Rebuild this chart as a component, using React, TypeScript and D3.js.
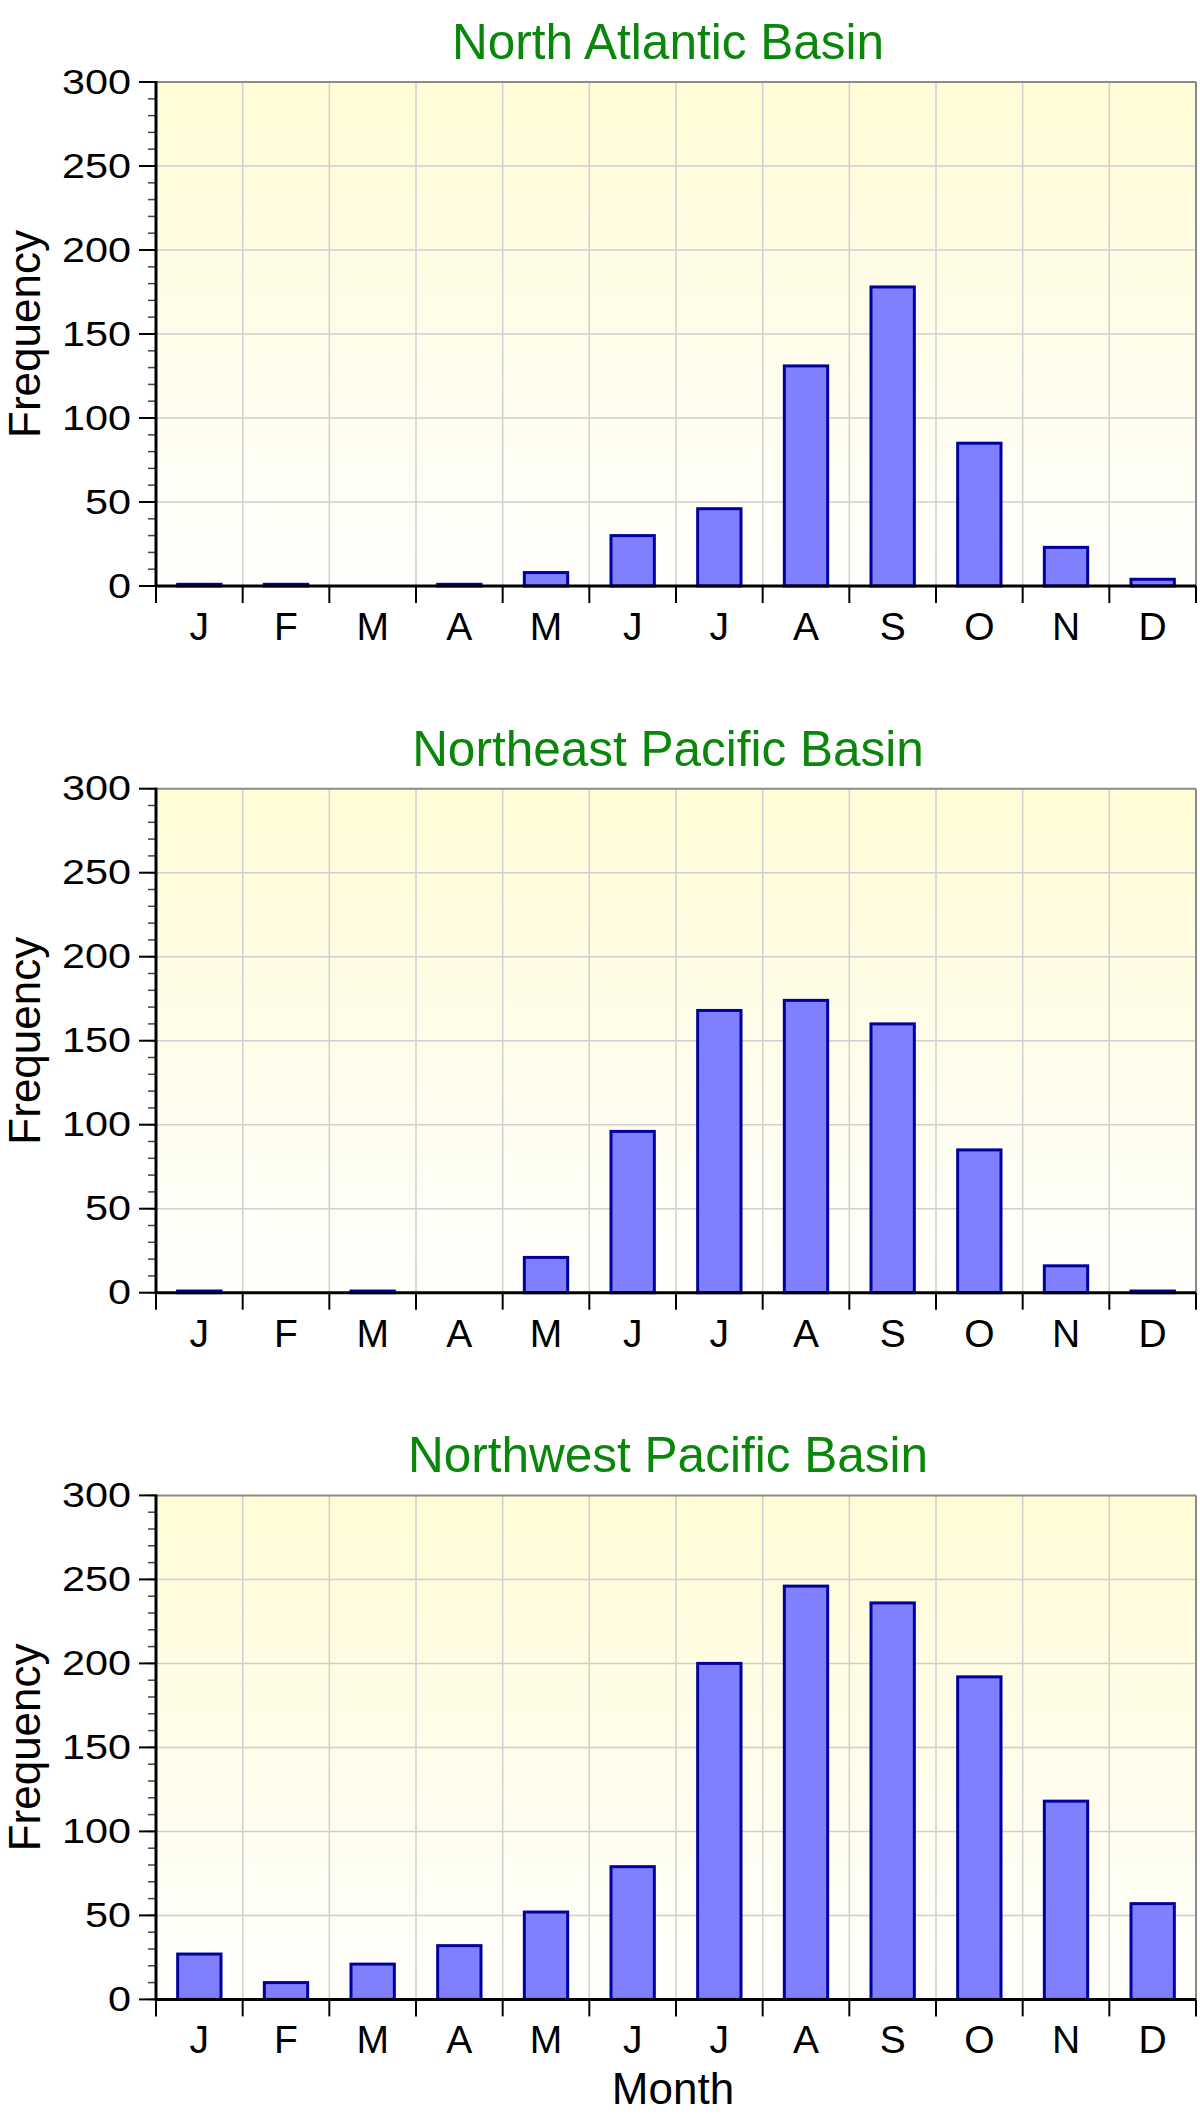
import * as d3 from 'd3';

const MONTHS = ['J', 'F', 'M', 'A', 'M', 'J', 'J', 'A', 'S', 'O', 'N', 'D'];
const BASINS = ['North Atlantic Basin', 'Northeast Pacific Basin', 'Northwest Pacific Basin'];
const NORTH_ATLANTIC = [1, 1, 0, 1, 8, 30, 46, 131, 178, 85, 23, 4];
const NORTHEAST_PACIFIC = [1, 0, 1, 0, 21, 96, 168, 174, 160, 85, 16, 1];
const NORTHWEST_PACIFIC = [27, 10, 21, 32, 52, 79, 200, 246, 236, 192, 118, 57];
const Y_TICKS = [0, 50, 100, 150, 200, 250, 300];

const SERIES = [NORTH_ATLANTIC, NORTHEAST_PACIFIC, NORTHWEST_PACIFIC];

const WIDTH = 1200;
const HEIGHT = 2118;
const MARGIN = { left: 156, right: 4, top: 82 };
const PLOT_H = 504;
const STEP = 706.7;
const FONT = '"Liberation Sans", Arial, Helvetica, sans-serif';

const Panel = ({ index, title, values }: { index: number; title: string; values: number[] }) => {
  const top = MARGIN.top + index * STEP;
  const bottom = top + PLOT_H;
  const left = MARGIN.left;
  const right = WIDTH - MARGIN.right;

  const xScale = d3
    .scaleBand<number>()
    .domain(d3.range(MONTHS.length))
    .range([left, right]);
  const yScale = d3.scaleLinear().domain([0, 300]).range([bottom, top]);
  const band = xScale.bandwidth();
  const barW = band * 0.5;
  const minor = d3.range(0, 301, 10);
  const bounds = d3.range(MONTHS.length + 1).map((i) => left + i * band);

  return (
    <g>
      <rect x={left} y={top} width={right - left} height={PLOT_H} fill="url(#bg)" />
      {/* grid */}
      {Y_TICKS.slice(1, -1).map((t) => (
        <line key={'h' + t} x1={left} x2={right} y1={yScale(t)} y2={yScale(t)} stroke="#cfcfcf" strokeWidth={1.5} />
      ))}
      {bounds.slice(1, -1).map((x, i) => (
        <line key={'v' + i} x1={x} x2={x} y1={top} y2={bottom} stroke="#cfcfcf" strokeWidth={1.5} />
      ))}
      {/* frame top + right */}
      <line x1={left} x2={right} y1={top} y2={top} stroke="#8a8a8a" strokeWidth={2} />
      <line x1={right} x2={right} y1={top} y2={bottom} stroke="#8a8a8a" strokeWidth={2} />

      {/* bars */}
      {values.map((v, i) => (
        <rect
          key={i}
          x={(xScale(i) || 0) + (band - barW) / 2}
          y={yScale(v)}
          width={barW}
          height={bottom - yScale(v)}
          fill="#8080ff"
          stroke="#0000a0"
          strokeWidth={3}
        />
      ))}

      {/* y axis */}
      {minor.map((t) => (
        <line key={'m' + t} x1={left - 8} x2={left} y1={yScale(t)} y2={yScale(t)} stroke="#444" strokeWidth={1.5} />
      ))}
      {Y_TICKS.map((t) => (
        <g key={'y' + t}>
          <line x1={left - 17} x2={left} y1={yScale(t)} y2={yScale(t)} stroke="#000" strokeWidth={2} />
          <text
            transform={`translate(131,${yScale(t)}) scale(1.2,1)`}
            textAnchor="end"
            dominantBaseline="central"
            fontSize={34.5}
            fontFamily={FONT}
            fill="#000"
          >
            {t}
          </text>
        </g>
      ))}
      <line x1={left} x2={left} y1={top - 1} y2={bottom + 1} stroke="#000" strokeWidth={3} />

      {/* x axis */}
      {bounds.map((x, i) => (
        <line key={'xt' + i} x1={x} x2={x} y1={bottom} y2={bottom + 17} stroke="#000" strokeWidth={2} />
      ))}
      <line x1={left} x2={right} y1={bottom} y2={bottom} stroke="#000" strokeWidth={3} />
      {MONTHS.map((m, i) => (
        <text
          key={'xl' + i}
          x={(xScale(i) || 0) + band / 2}
          y={bottom + 54}
          textAnchor="middle"
          fontSize={39}
          fontFamily={FONT}
          fill="#000"
        >
          {m}
        </text>
      ))}

      <text
        transform={`translate(40,${(top + bottom) / 2}) rotate(-90)`}
        textAnchor="middle"
        fontSize={44}
        fontFamily={FONT}
        fill="#000"
      >
        Frequency
      </text>
      <text x={668} y={top - 23} textAnchor="middle" fontSize={49.5} fontFamily={FONT} fill="#0a870a">
        {title}
      </text>
    </g>
  );
};

export default function App() {
  return (
    <svg
      width={WIDTH}
      height={HEIGHT}
      viewBox={`0 0 ${WIDTH} ${HEIGHT}`}
      style={{ position: 'absolute', left: 0, top: 0, background: '#fff' }}
    >
      <defs>
        <linearGradient id="bg" x1="0" y1="0" x2="0" y2="1">
          <stop offset="0" stopColor="#fffcd6" />
          <stop offset="0.45" stopColor="#fffde8" />
          <stop offset="1" stopColor="#fffffd" />
        </linearGradient>
      </defs>
      {BASINS.map((b, i) => (
        <Panel key={b} index={i} title={b} values={SERIES[i]} />
      ))}
      <text x={673} y={2104} textAnchor="middle" fontSize={44} fontFamily={FONT} fill="#000">
        Month
      </text>
    </svg>
  );
}
